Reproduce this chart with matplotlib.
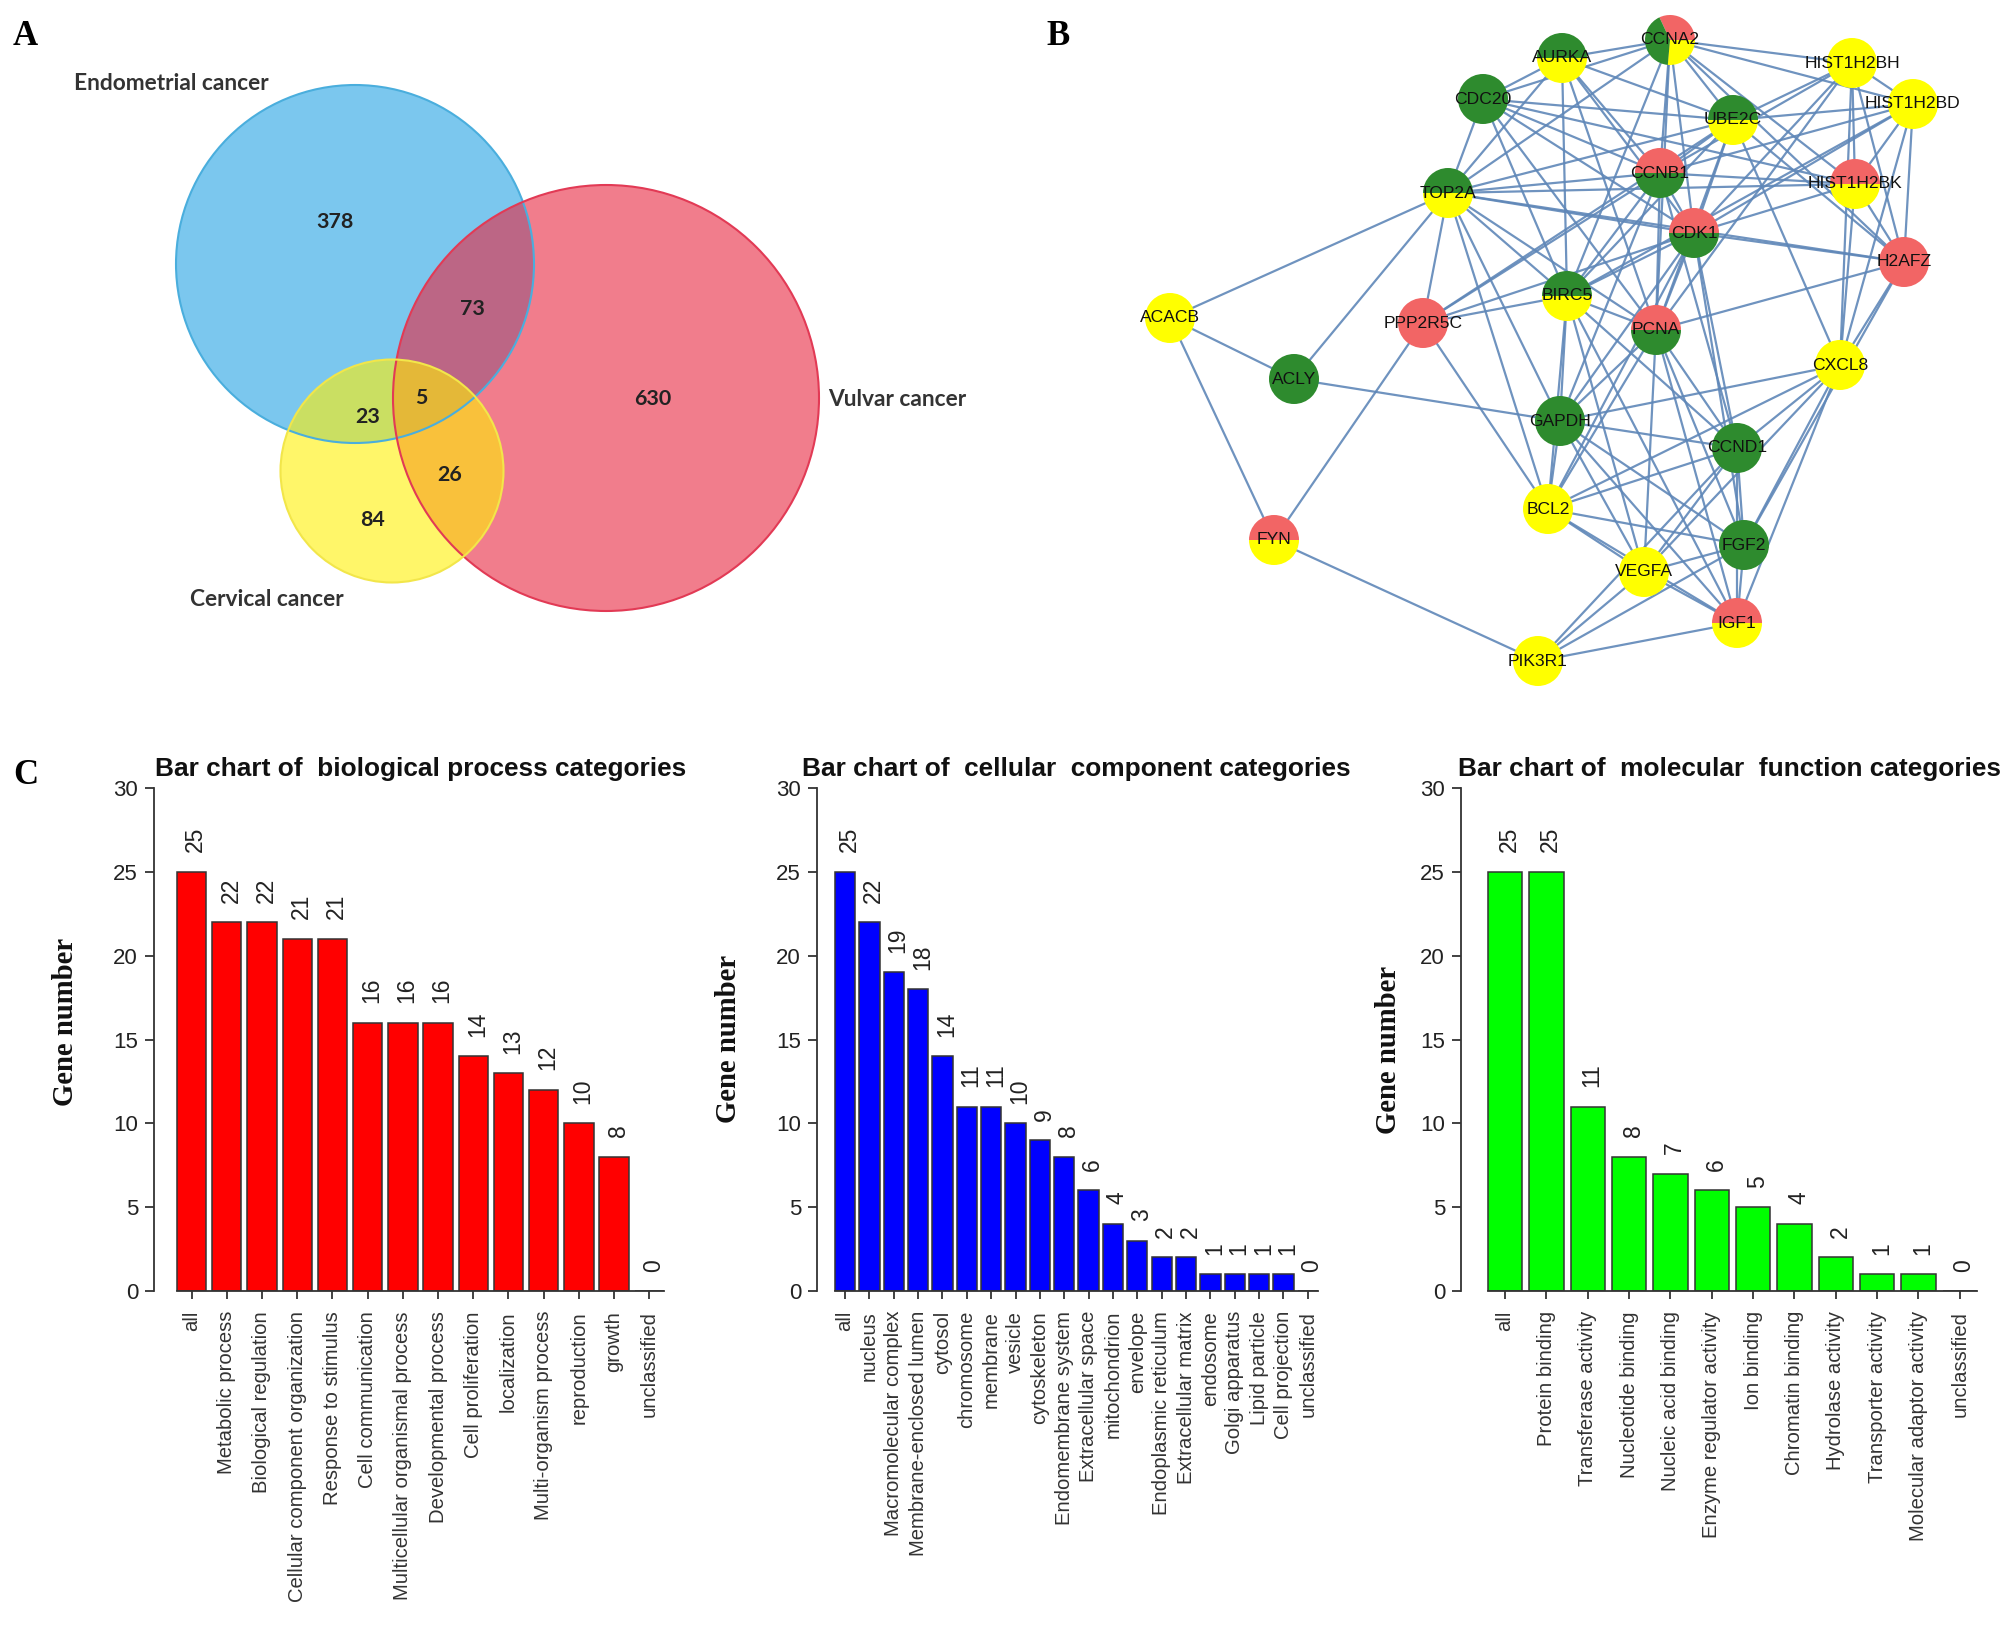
import numpy as np
import matplotlib
matplotlib.use("Agg")
import matplotlib.pyplot as plt
from matplotlib.patches import Circle, Wedge
from matplotlib import font_manager
from matplotlib.font_manager import FontProperties

W, H = 2008, 1645

# ---------------- data ----------------
venn_counts = {"E": 378, "V": 630, "C": 84, "EV": 73, "EC": 23, "VC": 26, "EVC": 5}
venn_sets = ["Endometrial cancer", "Vulvar cancer", "Cervical cancer"]

# network nodes: position in pixels and colours (top -> bottom)
node_names = ["CCNA2", "AURKA", "HIST1H2BH", "HIST1H2BD", "CDC20", "UBE2C", "CCNB1",
              "HIST1H2BK", "TOP2A", "CDK1", "H2AFZ", "ACACB", "PPP2R5C", "BIRC5",
              "PCNA", "CXCL8", "ACLY", "GAPDH", "CCND1", "BCL2", "FGF2", "FYN",
              "VEGFA", "IGF1", "PIK3R1"]
node_x = [1670, 1562, 1852, 1913, 1483, 1733, 1660, 1855, 1448, 1694, 1904, 1170, 1423,
          1567, 1656, 1840, 1294, 1560, 1737, 1548, 1744, 1274, 1644, 1737, 1538]
node_y = [40, 58, 63, 104, 99, 120, 173, 184, 193, 233, 262, 318, 323, 296, 330, 365,
          379, 421, 448, 509, 545, 540, 572, 623, 661]
node_cols = [["r", "g", "y"], ["g", "y"], ["y"], ["y"], ["g"], ["g", "y"], ["r", "g"],
             ["r", "y"], ["g", "y"], ["r", "g"], ["r"], ["y"], ["r"], ["g", "y"],
             ["r", "g"], ["y"], ["g"], ["g"], ["g"], ["y"], ["g"], ["r", "y"], ["y"],
             ["r", "y"], ["y"]]

edges = [
    ("ACACB", "TOP2A"), ("ACACB", "ACLY"), ("ACACB", "FYN"),
    ("ACLY", "TOP2A"), ("ACLY", "GAPDH"),
    ("FYN", "PPP2R5C"), ("FYN", "PIK3R1"),
    ("PPP2R5C", "TOP2A"), ("PPP2R5C", "BIRC5"), ("PPP2R5C", "CCNB1"), ("PPP2R5C", "CDK1"),
    ("PPP2R5C", "BCL2"), ("PPP2R5C", "UBE2C"),
    ("CCNA2", "AURKA"), ("CCNA2", "CDC20"), ("CCNA2", "UBE2C"), ("CCNA2", "CCNB1"),
    ("CCNA2", "TOP2A"), ("CCNA2", "CDK1"), ("CCNA2", "BIRC5"), ("CCNA2", "PCNA"),
    ("CCNA2", "HIST1H2BH"), ("CCNA2", "HIST1H2BD"), ("CCNA2", "HIST1H2BK"), ("CCNA2", "H2AFZ"),
    ("AURKA", "CDC20"), ("AURKA", "UBE2C"), ("AURKA", "CCNB1"), ("AURKA", "TOP2A"),
    ("AURKA", "CDK1"), ("AURKA", "BIRC5"), ("AURKA", "PCNA"),
    ("CDC20", "UBE2C"), ("CDC20", "CCNB1"), ("CDC20", "TOP2A"), ("CDC20", "CDK1"),
    ("CDC20", "BIRC5"), ("CDC20", "PCNA"), ("CDC20", "HIST1H2BK"),
    ("UBE2C", "CCNB1"), ("UBE2C", "TOP2A"), ("UBE2C", "CDK1"), ("UBE2C", "BIRC5"),
    ("UBE2C", "HIST1H2BH"), ("UBE2C", "HIST1H2BD"), ("UBE2C", "PCNA"), ("UBE2C", "H2AFZ"),
    ("UBE2C", "CXCL8"),
    ("CCNB1", "TOP2A"), ("CCNB1", "CDK1"), ("CCNB1", "BIRC5"), ("CCNB1", "PCNA"),
    ("CCNB1", "HIST1H2BH"), ("CCNB1", "HIST1H2BD"), ("CCNB1", "HIST1H2BK"), ("CCNB1", "CCND1"),
    ("CCNB1", "GAPDH"),
    ("TOP2A", "CDK1"), ("TOP2A", "BIRC5"), ("TOP2A", "PCNA"), ("TOP2A", "HIST1H2BK"),
    ("TOP2A", "GAPDH"), ("TOP2A", "BCL2"), ("TOP2A", "H2AFZ"),
    ("CDK1", "BIRC5"), ("CDK1", "PCNA"), ("CDK1", "HIST1H2BH"), ("CDK1", "HIST1H2BD"),
    ("CDK1", "HIST1H2BK"), ("CDK1", "H2AFZ"), ("CDK1", "CCND1"), ("CDK1", "BCL2"),
    ("CDK1", "GAPDH"), ("CDK1", "FGF2"),
    ("BIRC5", "PCNA"), ("BIRC5", "GAPDH"), ("BIRC5", "BCL2"), ("BIRC5", "VEGFA"),
    ("BIRC5", "CCND1"), ("BIRC5", "IGF1"), ("BIRC5", "HIST1H2BD"),
    ("PCNA", "H2AFZ"), ("PCNA", "CCND1"), ("PCNA", "GAPDH"), ("PCNA", "BCL2"),
    ("PCNA", "VEGFA"), ("PCNA", "FGF2"), ("PCNA", "IGF1"), ("PCNA", "HIST1H2BH"),
    ("HIST1H2BH", "HIST1H2BD"), ("HIST1H2BH", "HIST1H2BK"), ("HIST1H2BH", "H2AFZ"),
    ("HIST1H2BH", "CXCL8"),
    ("HIST1H2BD", "HIST1H2BK"), ("HIST1H2BD", "H2AFZ"), ("HIST1H2BD", "CXCL8"),
    ("HIST1H2BK", "H2AFZ"), ("HIST1H2BK", "CXCL8"),
    ("H2AFZ", "CXCL8"), ("H2AFZ", "FGF2"),
    ("CXCL8", "GAPDH"), ("CXCL8", "CCND1"), ("CXCL8", "FGF2"), ("CXCL8", "VEGFA"),
    ("CXCL8", "IGF1"), ("CXCL8", "BCL2"),
    ("GAPDH", "CCND1"), ("GAPDH", "BCL2"), ("GAPDH", "VEGFA"), ("GAPDH", "FGF2"),
    ("GAPDH", "IGF1"),
    ("CCND1", "BCL2"), ("CCND1", "FGF2"), ("CCND1", "VEGFA"), ("CCND1", "IGF1"),
    ("CCND1", "PIK3R1"),
    ("BCL2", "FGF2"), ("BCL2", "VEGFA"), ("BCL2", "IGF1"),
    ("FGF2", "VEGFA"), ("FGF2", "IGF1"), ("FGF2", "PIK3R1"),
    ("VEGFA", "IGF1"), ("VEGFA", "PIK3R1"),
    ("IGF1", "PIK3R1"),
]

bp_labels = ["all", "Metabolic process", "Biological regulation",
             "Cellular component organization", "Response to stimulus",
             "Cell communication", "Multicellular organismal process",
             "Developmental process", "Cell proliferation", "localization",
             "Multi-organism process", "reproduction", "growth", "unclassified"]
bp_values = [25, 22, 22, 21, 21, 16, 16, 16, 14, 13, 12, 10, 8, 0]

cc_labels = ["all", "nucleus", "Macromolecular complex", "Membrane-enclosed lumen",
             "cytosol", "chromosome", "membrane", "vesicle", "cytoskeleton",
             "Endomembrane system", "Extracellular space", "mitochondrion", "envelope",
             "Endoplasmic reticulum", "Extracellular matrix", "endosome",
             "Golgi apparatus", "Lipid particle", "Cell projection", "unclassified"]
cc_values = [25, 22, 19, 18, 14, 11, 11, 10, 9, 8, 6, 4, 3, 2, 2, 1, 1, 1, 1, 0]

mf_labels = ["all", "Protein binding", "Transferase activity", "Nucleotide binding",
             "Nucleic acid binding", "Enzyme regulator activity", "Ion binding",
             "Chromatin binding", "Hydrolase activity", "Transporter activity",
             "Molecular adaptor activity", "unclassified"]
mf_values = [25, 25, 11, 8, 7, 6, 5, 4, 2, 1, 1, 0]

# ---------------- figure ----------------
fig = plt.figure(figsize=(W / 100, H / 100), dpi=100)
renderer = fig.canvas.get_renderer()


def fit_size(s, target_px, size=12, **props):
    # font size that gives a text of target_px length
    t = fig.text(0, 0, s, fontsize=size, **props)
    bb = t.get_window_extent(renderer)
    t.remove()
    return size * target_px / bb.width


try:
    font_manager.findfont(FontProperties(family="Liberation Sans Narrow"),
                          fallback_to_default=False)
    lab_font = "Liberation Sans Narrow"
except Exception:
    lab_font = "Liberation Sans"

lab_size = fit_size("Cellular component organization", 292, family=lab_font)
title_size = fit_size("Bar chart of  biological process categories", 528,
                      family="Liberation Sans", weight="bold")
node_size = fit_size("HIST1H2BH", 96, family="Liberation Sans")
venn_lab_size = fit_size("Endometrial cancer", 195, family="Lato", weight="bold")
venn_num_size = fit_size("378", 37, family="Lato", weight="bold")
ylab_size = fit_size("Gene number", 168, family="Liberation Serif", weight="bold")

ax0 = fig.add_axes([0, 0, 1, 1])
ax0.set_xlim(0, W)
ax0.set_ylim(H, 0)
ax0.axis("off")

serif_bold = dict(family="Liberation Serif", weight="bold")
ax0.text(13, 45, "A", fontsize=25, **serif_bold)
ax0.text(1046, 45, "B", fontsize=25, **serif_bold)
ax0.text(13, 784, "C", fontsize=25, **serif_bold)

# ---- Venn ----
circ = [((355, 264), 179, "#23A3E3", "#4AAEDD"),
        ((606, 398), 213, "#E8263F", "#E23A55"),
        ((392, 471), 111.5, "#FFF005", "#F2E64A")]
for (c, r, fc, ec) in circ:
    ax0.add_patch(Circle(c, r, facecolor=fc, alpha=0.6, edgecolor="none", zorder=1))
    ax0.add_patch(Circle(c, r, facecolor="none", edgecolor=ec, lw=1.5, zorder=2))

num_pos = {"E": (335, 222), "EV": (472, 309), "EVC": (421, 398), "EC": (368, 417),
           "VC": (450, 475), "C": (373, 520), "V": (653, 399)}
for k, (x, y) in num_pos.items():
    ax0.text(x, y, str(venn_counts[k]), ha="center", va="center", fontsize=venn_num_size,
             family="Lato", weight="bold", color="#222222", zorder=5)
lab_pos = [(171, 84), (897, 399), (267, 599)]
for name, (x, y) in zip(venn_sets, lab_pos):
    ax0.text(x, y, name, ha="center", va="center", fontsize=venn_lab_size, family="Lato",
             weight="bold", color="#333333", zorder=5)

# ---- network ----
col_map = {"r": "#F26565", "g": "#2E8B2E", "y": "#FFFF00"}
pos = {n: (x, y) for n, x, y in zip(node_names, node_x, node_y)}
for a, b in edges:
    (x1, y1), (x2, y2) = pos[a], pos[b]
    ax0.plot([x1, x2], [y1, y2], color="#5F87B8", lw=1.6, alpha=0.9, zorder=2,
             solid_capstyle="round")

R = 25
for n, cols in zip(node_names, node_cols):
    x, y = pos[n]
    if len(cols) == 1:
        ax0.add_patch(Circle((x, y), R, color=col_map[cols[0]], zorder=3, lw=0))
    elif len(cols) == 2:
        # y axis is inverted: data angles 180-360 are the top half on screen
        ax0.add_patch(Wedge((x, y), R, 180, 360, color=col_map[cols[0]], zorder=3, lw=0))
        ax0.add_patch(Wedge((x, y), R, 0, 180, color=col_map[cols[1]], zorder=3, lw=0))
    else:
        spans = [(0, 115), (115, 265), (265, 360)]  # screen angles
        for c, (a1, a2) in zip(cols, spans):
            ax0.add_patch(Wedge((x, y), R, -a2, -a1, color=col_map[c], zorder=3, lw=0))
    ax0.text(x, y, n, ha="center", va="center", fontsize=node_size, family="Liberation Sans",
             color="#111111", zorder=4)


# ---------------- bar charts ----------------
def fx(px):
    return px / W


def fy(py):
    return 1 - py / H


def bar_panel(left_px, right_px, xleft, labels, values, color, title, title_x, ylab_x, ylab_y):
    n = len(values)
    ax = fig.add_axes([fx(left_px), fy(1291), fx(right_px - left_px), (1291 - 788) / H])
    xs = 0.7 + 1.2 * np.arange(n)
    ax.bar(xs, values, width=1.0, color=color, edgecolor="#333333", linewidth=1.1, zorder=2)
    ax.set_xlim(xleft, 1.2 * n)
    ax.set_ylim(0, 30)
    for s in ["top", "right"]:
        ax.spines[s].set_visible(False)
    ax.spines["left"].set_bounds(0, 30)
    ax.spines["bottom"].set_bounds(0.2, 1.2 * n)
    for s in ["left", "bottom"]:
        ax.spines[s].set_color("#333333")
        ax.spines[s].set_linewidth(1.3)
    ax.set_yticks(range(0, 31, 5))
    ax.set_xticks(xs)
    ax.set_xticklabels(labels, rotation=90, fontsize=lab_size, family=lab_font, color="#222222")
    ax.tick_params(axis="y", length=6.5, width=1.3, pad=5, labelsize=16, colors="#333333")
    ax.tick_params(axis="x", length=5.8, width=1.3, pad=8.6, colors="#333333")
    for lab in ax.get_yticklabels():
        lab.set_family("Liberation Sans")
        lab.set_color("#222222")
    for x, v in zip(xs, values):
        ax.annotate(str(v), (x, v), xytext=(3, 14), textcoords="offset points",
                    rotation=90, ha="center", va="bottom", fontsize=16.5,
                    family="Liberation Sans", color="#222222", annotation_clip=False)
    fig.text(fx(title_x), fy(769), title, ha="center", va="center", fontsize=title_size,
             family="Liberation Sans", weight="bold", color="#111111")
    fig.text(fx(ylab_x), fy(ylab_y), "Gene number", rotation=90, ha="center", va="center",
             fontsize=ylab_size, color="#111111", **serif_bold)
    return ax


bar_panel(154, 664, -0.58, bp_labels, bp_values, "#FF0000",
          "Bar chart of  biological process categories", 421, 66, 1022)
bar_panel(817, 1318, -0.68, cc_labels, cc_values, "#0000FF",
          "Bar chart of  cellular  component categories", 1076, 729, 1039)
bar_panel(1461, 1977, -0.58, mf_labels, mf_values, "#00FF00",
          "Bar chart of  molecular  function categories", 1730, 1388, 1050)

fig.savefig("out.png", dpi=100)
